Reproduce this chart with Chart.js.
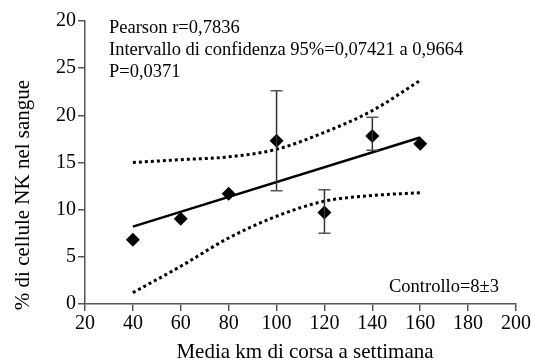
<!DOCTYPE html>
<html>
<head>
<meta charset="utf-8">
<script src="https://cdn.jsdelivr.net/npm/chart.js@4"></script>
<style>
    html, body { margin: 0; padding: 0; background: #fff; }
    #wrap { width: 535px; height: 363px; position: relative; }
    .preload { font-family: 'Liberation Serif'; position: absolute; left: -999px; top: 0; }
</style>
</head>
<body>
<div class="preload">Media km 0123456789</div>
<div id="wrap"><canvas id="chart" width="535" height="363"></canvas></div>
<script>
// Dati
const kmPerWeek = [40, 60, 80, 100, 120, 140, 160];
const nkPercent = [6.8, 9.05, 11.7, 17.3, 9.7, 17.8, 17.0];
const errHigh = [null, null, null, 22.6, 12.1, 19.8, null];
const errLow = [null, null, null, 12.0, 7.5, 16.3, null];

const fitX = [40, 160];
const fitY = [8.2, 17.65];

const ciX = [40, 60, 80, 100, 120, 140, 160];
const ciUpper = [15.0, 15.3, 15.6, 16.4, 18.2, 20.5, 23.7];
const ciLower = [1.2, 4.0, 7.0, 9.3, 10.9, 11.5, 11.8];

const xTicks = [20, 40, 60, 80, 100, 120, 140, 160, 180, 200];
const yTicks = [0, 5, 10, 15, 20, 25, 30];
const yTickLabels = ['0', '5', '10', '15', '20', '25', '20'];

const statsLines = [
    'Pearson r=0,7836',
    'Intervallo di confidenza 95%=0,07421 a 0,9664',
    'P=0,0371'
];
const controlText = 'Controllo=8\u00b13';
const xTitle = 'Media km di corsa a settimana';
const yTitle = '% di cellule NK nel sangue';

const serif = "'Liberation Serif'";

function toPoints(xs, ys) {
    return xs.map((x, i) => ({ x: x, y: ys[i] }));
}

// barre di errore
const errorBars = {
    id: 'errorBars',
    afterDatasetsDraw(chart) {
        const ctx = chart.ctx;
        const xs = chart.scales.x;
        const ys = chart.scales.y;
        ctx.save();
        kmPerWeek.forEach((k, i) => {
            if (errHigh[i] === null) return;
            const px = xs.getPixelForValue(k);
            const top = ys.getPixelForValue(errHigh[i]);
            const bot = ys.getPixelForValue(errLow[i]);
            ctx.strokeStyle = '#333';
            ctx.lineWidth = 1.5;
            ctx.beginPath();
            ctx.moveTo(px, top);
            ctx.lineTo(px, bot);
            ctx.stroke();
            ctx.strokeStyle = '#555';
            ctx.beginPath();
            ctx.moveTo(px - 6, top);
            ctx.lineTo(px + 6, top);
            ctx.moveTo(px - 6, bot);
            ctx.lineTo(px + 6, bot);
            ctx.stroke();
        });
        ctx.restore();
    }
};

// testi del grafico
const labels = {
    id: 'labels',
    afterDraw(chart) {
        const ctx = chart.ctx;
        ctx.save();
        ctx.fillStyle = '#000';
        ctx.textBaseline = 'alphabetic';
        ctx.font = '18.5px ' + serif;
        ctx.textAlign = 'left';
        statsLines.forEach((t, i) => {
            ctx.fillText(t, 109, 33 + i * 22);
        });
        ctx.textAlign = 'right';
        ctx.fillText(controlText, 499, 292);

        ctx.font = '21px ' + serif;
        ctx.textAlign = 'center';
        ctx.fillText(xTitle, 305, 358);

        ctx.translate(29, 195);
        ctx.rotate(-Math.PI / 2);
        ctx.fillText(yTitle, 0, 0);
        ctx.restore();
    }
};

const axisColor = '#555';

function drawChart() {
    new Chart(document.getElementById('chart'), {
        type: 'scatter',
        data: {
            datasets: [
                {
                    data: toPoints(ciX, ciUpper),
                    showLine: true,
                    borderColor: '#000',
                    borderWidth: 3,
                    borderDash: [3, 3],
                    pointRadius: 0,
                    cubicInterpolationMode: 'monotone'
                },
                {
                    data: toPoints(ciX, ciLower),
                    showLine: true,
                    borderColor: '#000',
                    borderWidth: 3,
                    borderDash: [3, 3],
                    pointRadius: 0,
                    cubicInterpolationMode: 'monotone'
                },
                {
                    data: toPoints(fitX, fitY),
                    showLine: true,
                    borderColor: '#000',
                    borderWidth: 2.5,
                    pointRadius: 0
                },
                {
                    data: toPoints(kmPerWeek, nkPercent),
                    pointStyle: 'rectRot',
                    pointRadius: 7,
                    backgroundColor: '#000',
                    borderColor: '#000',
                    borderWidth: 0
                }
            ]
        },
        options: {
            responsive: false,
            animation: false,
            layout: { padding: { top: 21, right: 19, left: 0, bottom: 0 } },
            plugins: {
                legend: { display: false },
                tooltip: { enabled: false }
            },
            scales: {
                x: {
                    type: 'linear',
                    min: 20,
                    max: 200,
                    afterFit: (s) => { s.height = 59; },
                    afterBuildTicks: (s) => { s.ticks = xTicks.map(v => ({ value: v })); },
                    grid: { drawOnChartArea: false, tickLength: 7, color: axisColor, lineWidth: 1.5 },
                    border: { color: axisColor, width: 1.5 },
                    ticks: {
                        color: '#000',
                        padding: 1,
                        maxRotation: 0,
                        font: { family: serif, size: 20 }
                    }
                },
                y: {
                    type: 'linear',
                    min: 0,
                    max: 30,
                    afterFit: (s) => { s.width = 85; },
                    afterBuildTicks: (s) => { s.ticks = yTicks.map(v => ({ value: v })); },
                    grid: { drawOnChartArea: false, tickLength: 7, color: axisColor, lineWidth: 1.5 },
                    border: { color: axisColor, width: 1.5 },
                    ticks: {
                        color: '#000',
                        padding: 2,
                        font: { family: serif, size: 20 },
                        callback: (v) => {
                            const i = yTicks.indexOf(v);
                            return i >= 0 ? yTickLabels[i] : '';
                        }
                    }
                }
            }
        },
        plugins: [errorBars, labels]
    });
}

document.fonts.load('20px ' + serif).then(drawChart, drawChart);
</script>
</body>
</html>
